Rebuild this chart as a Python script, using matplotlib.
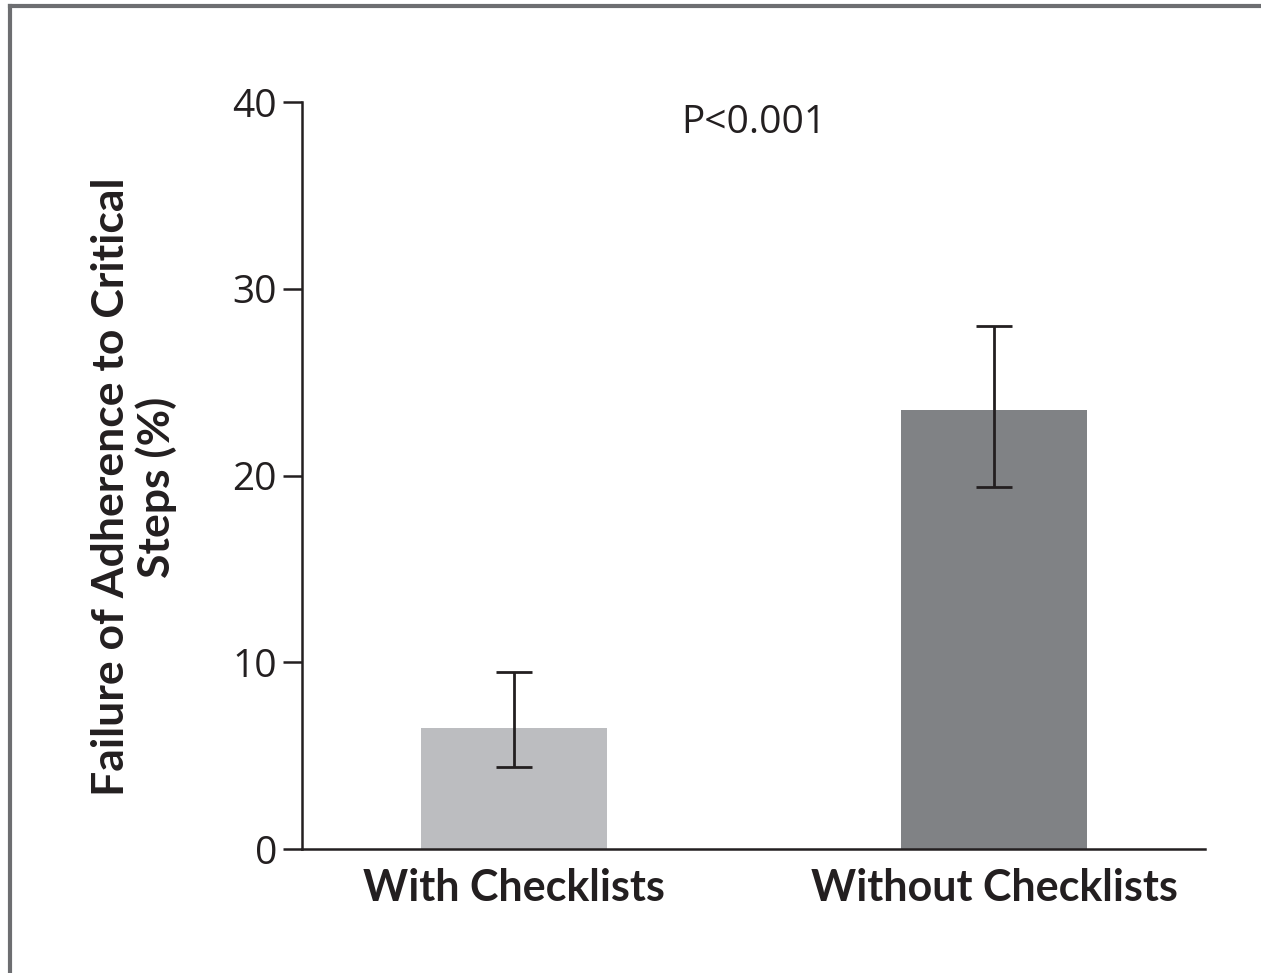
import matplotlib.pyplot as plt
from matplotlib.lines import Line2D

# data
groups = ['With Checklists', 'Without Checklists']
failure_pct = [6.5, 23.5]
ci_low = [4.4, 19.4]
ci_high = [9.5, 28.0]
bar_colors = ['#bcbdc0', '#808285']
y_ticks = [0, 10, 20, 30, 40]

plt.rcParams['font.family'] = ['Open Sans', 'DejaVu Sans']
txt = '#231f20'
bold_font = ['Lato', 'DejaVu Sans']

fig = plt.figure(figsize=(12.61, 9.73), dpi=100)
ax = fig.add_axes([0.2395, 0.1274, 0.7161, 0.7677])

x = list(range(len(groups)))
err = [[v - lo for v, lo in zip(failure_pct, ci_low)],
       [hi - v for v, hi in zip(failure_pct, ci_high)]]
ax.bar(x, failure_pct, width=0.3875, color=bar_colors, zorder=2)
ax.errorbar(x, failure_pct, yerr=err, fmt='none', ecolor=txt,
            elinewidth=2, capsize=13, capthick=2, zorder=3)

ax.set_xlim(-0.4417, 1.4396)
ax.set_ylim(0, 40)
ax.set_yticks(y_ticks)
ax.set_xticks(x)
ax.set_xticklabels(groups, fontsize=31, fontweight='bold', color=txt,
                   family=bold_font)
ax.tick_params(axis='x', length=0, pad=14)
ax.tick_params(axis='y', length=14, width=1.8, pad=4, labelsize=28,
               labelcolor=txt, color=txt)
for s in ['top', 'right']:
    ax.spines[s].set_visible(False)
for s in ['left', 'bottom']:
    ax.spines[s].set_linewidth(1.8)
    ax.spines[s].set_color(txt)

ax.text(0.5, 0.972, 'P<0.001', transform=ax.transAxes, ha='center',
        va='center', fontsize=28, color=txt)

fig.text(134 / 1261, 1 - 487 / 973,
         'Failure of Adherence to Critical\nSteps (%)',
         rotation=90, ha='center', va='center', multialignment='center',
         fontsize=32, fontweight='bold', color=txt, linespacing=1.1,
         family=bold_font)

# partial frame (left and top edges only, as in the source crop)
fig.add_artist(Line2D([10 / 1261, 10 / 1261], [0, 1 - 6 / 973],
                      color='#6d6e71', lw=3, transform=fig.transFigure))
fig.add_artist(Line2D([10 / 1261, 1], [1 - 6 / 973, 1 - 6 / 973],
                      color='#6d6e71', lw=3, transform=fig.transFigure))

plt.savefig('out.png', dpi=100)
